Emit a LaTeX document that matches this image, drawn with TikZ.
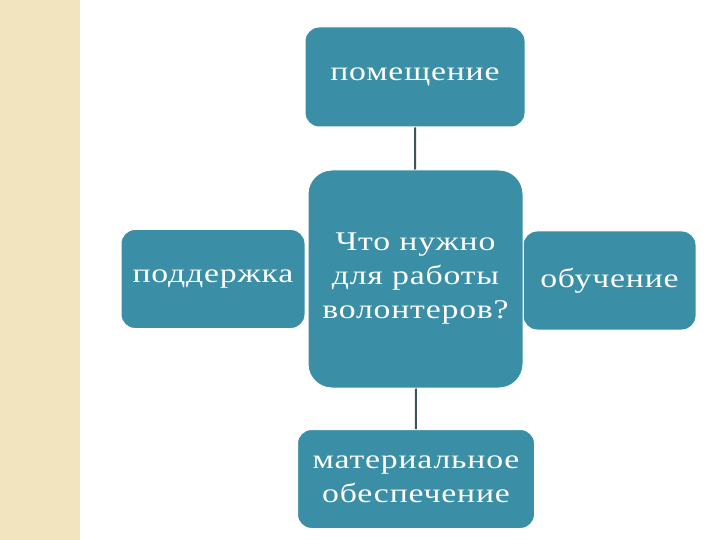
\documentclass[tikz,border=0pt]{standalone}
\usepackage{fontspec}
\setmainfont{Liberation Serif}[FakeStretch=1.25, LetterSpace=3]
\usepackage{tikz}
\usetikzlibrary{shapes}

\definecolor{boxteal}{RGB}{58,143,166}
\definecolor{linegray}{RGB}{60,84,94}
\definecolor{stripbeige}{RGB}{242,228,190}

\begin{document}
\begin{tikzpicture}[x=1pt, y=-1pt,
        topic/.style={rectangle, rounded corners=14pt, fill=boxteal, draw=white, line width=1pt,
            text=white, align=center, font=\fontsize{27}{34}\selectfont, inner sep=0pt},
        link/.style={draw=linegray, line width=2pt}]
        \useasboundingbox (0, 0) rectangle (720, 540);
        \fill[stripbeige] (0, 0) rectangle (80, 540);

        \node (support) [topic, minimum width=184pt, minimum height=99pt] at (213, 279) {поддержка};
        \node (training) [topic, minimum width=173pt, minimum height=99pt] at (609.5, 280.5) {обучение};
        \node (room) [topic, minimum width=220pt, minimum height=100pt] at (415, 77) {помещение};
        \node (need) [topic, rounded corners=24pt, minimum width=215pt, minimum height=218pt] at (415.5, 279)
            {Что нужно\\для работы\\волонтеров?};
        \node (material) [topic, minimum width=237pt, minimum height=99pt] at (416, 479)
            {материальное\\обеспечение};

        \draw[link] (room) -- (need);
        \draw[link] (need) -- (material);

    \end{tikzpicture}
\end{document}
